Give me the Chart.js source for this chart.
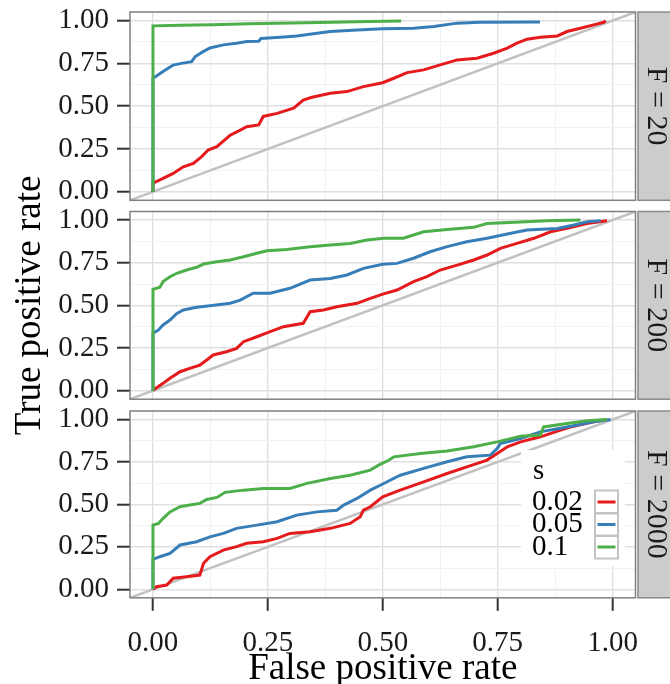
<!DOCTYPE html>
<html>
<head>
<meta charset="utf-8">
<script src="https://cdn.jsdelivr.net/npm/chart.js@4.4.0/dist/chart.umd.min.js"></script>
<style>
  html, body { margin: 0; padding: 0; background: #fff; }
  #wrap { position: relative; width: 670px; height: 684px; overflow: hidden; }
  #wrap canvas { position: absolute; left: 0; top: 0; }
</style>
</head>
<body>
<div id="wrap">
  <canvas id="p0" width="670" height="684"></canvas>
  <canvas id="p1" width="670" height="684"></canvas>
  <canvas id="p2" width="670" height="684"></canvas>
</div>
<script>
// axis ticks
const tickValues = [0, 0.25, 0.5, 0.75, 1];
const tickLabels = ['0.00', '0.25', '0.50', '0.75', '1.00'];
const minorValues = [0.125, 0.375, 0.625, 0.875];
const facetLabels = ['F = 20', 'F = 200', 'F = 2000'];
const sLabels = ['0.02', '0.05', '0.1'];
const sColors = ['#E41A1C', '#377EB8', '#4DAF4A'];

// ROC curves, [false positive rate, true positive rate]
const f20_s002 = [[0,0],[0,0.05],[0.022,0.078],[0.044,0.107],[0.066,0.146],[0.088,0.166],[0.106,0.205],[0.12,0.244],[0.139,0.263],[0.16,0.312],[0.168,0.33],[0.19,0.36],[0.204,0.38],[0.23,0.39],[0.24,0.44],[0.27,0.458],[0.306,0.488],[0.327,0.536],[0.346,0.552],[0.386,0.575],[0.422,0.585],[0.458,0.614],[0.5,0.637],[0.524,0.663],[0.553,0.696],[0.589,0.712],[0.625,0.741],[0.662,0.77],[0.705,0.78],[0.741,0.809],[0.771,0.839],[0.792,0.868],[0.814,0.891],[0.843,0.903],[0.88,0.91],[0.901,0.936],[0.93,0.955],[0.959,0.975],[0.981,0.99],[0.985,1.0]];
const f20_s005 = [[0,0],[0,0.663],[0.01,0.68],[0.026,0.71],[0.044,0.74],[0.062,0.75],[0.084,0.76],[0.092,0.79],[0.11,0.82],[0.124,0.84],[0.153,0.858],[0.182,0.868],[0.204,0.877],[0.23,0.879],[0.235,0.895],[0.277,0.903],[0.313,0.91],[0.357,0.926],[0.386,0.936],[0.444,0.945],[0.5,0.952],[0.567,0.955],[0.611,0.965],[0.662,0.985],[0.712,0.99],[0.842,0.992]];
const f20_s01 = [[0,0],[0,0.969],[0.06,0.972],[0.13,0.976],[0.21,0.982],[0.3,0.986],[0.39,0.99],[0.47,0.995],[0.54,0.998]];

const f200_s002 = [[0,0],[0.004,0.01],[0.022,0.043],[0.037,0.073],[0.059,0.111],[0.08,0.131],[0.102,0.15],[0.117,0.18],[0.131,0.209],[0.16,0.228],[0.182,0.248],[0.197,0.287],[0.226,0.316],[0.255,0.346],[0.284,0.375],[0.327,0.395],[0.342,0.463],[0.371,0.473],[0.4,0.492],[0.444,0.512],[0.473,0.541],[0.5,0.566],[0.531,0.59],[0.567,0.639],[0.596,0.668],[0.625,0.707],[0.662,0.736],[0.698,0.766],[0.727,0.795],[0.756,0.834],[0.792,0.863],[0.829,0.893],[0.865,0.931],[0.901,0.951],[0.945,0.98],[0.988,0.996]];
const f200_s005 = [[0,0],[0,0.336],[0.012,0.356],[0.022,0.385],[0.037,0.414],[0.052,0.453],[0.066,0.473],[0.095,0.489],[0.124,0.498],[0.168,0.512],[0.19,0.531],[0.218,0.571],[0.255,0.571],[0.298,0.6],[0.342,0.648],[0.386,0.658],[0.422,0.678],[0.458,0.717],[0.5,0.741],[0.531,0.746],[0.567,0.776],[0.603,0.814],[0.64,0.844],[0.683,0.873],[0.727,0.893],[0.771,0.918],[0.814,0.941],[0.88,0.951],[0.916,0.971],[0.945,0.99],[0.974,0.996]];
const f200_s01 = [[0,0],[0,0.594],[0.015,0.606],[0.022,0.639],[0.037,0.668],[0.052,0.688],[0.073,0.707],[0.095,0.723],[0.11,0.742],[0.139,0.756],[0.168,0.766],[0.197,0.785],[0.226,0.805],[0.248,0.82],[0.291,0.828],[0.342,0.844],[0.386,0.854],[0.429,0.863],[0.466,0.883],[0.502,0.893],[0.545,0.893],[0.567,0.912],[0.589,0.931],[0.64,0.945],[0.698,0.957],[0.727,0.98],[0.8,0.988],[0.858,0.996],[0.93,1.0]];

const f2000_s002 = [[0,0],[0.008,0.015],[0.03,0.025],[0.044,0.065],[0.073,0.074],[0.102,0.084],[0.11,0.153],[0.124,0.192],[0.153,0.231],[0.182,0.251],[0.204,0.271],[0.24,0.28],[0.27,0.3],[0.298,0.329],[0.342,0.339],[0.386,0.359],[0.429,0.388],[0.451,0.427],[0.458,0.466],[0.473,0.486],[0.5,0.545],[0.538,0.584],[0.589,0.633],[0.64,0.682],[0.683,0.721],[0.727,0.761],[0.749,0.8],[0.771,0.839],[0.8,0.868],[0.843,0.898],[0.887,0.937],[0.908,0.956],[0.959,0.986],[0.988,1.0]];
const f2000_s005 = [[0,0],[0,0.176],[0.015,0.192],[0.037,0.212],[0.059,0.261],[0.095,0.28],[0.124,0.309],[0.153,0.329],[0.182,0.359],[0.226,0.378],[0.27,0.398],[0.313,0.437],[0.357,0.456],[0.4,0.466],[0.415,0.496],[0.444,0.535],[0.473,0.584],[0.5,0.62],[0.538,0.672],[0.589,0.712],[0.64,0.751],[0.683,0.78],[0.734,0.79],[0.749,0.829],[0.756,0.859],[0.8,0.888],[0.843,0.927],[0.901,0.956],[0.959,0.986],[0.996,1.0]];
const f2000_s01 = [[0,0],[0,0.378],[0.012,0.388],[0.022,0.418],[0.037,0.456],[0.059,0.486],[0.08,0.496],[0.102,0.506],[0.117,0.529],[0.139,0.541],[0.157,0.571],[0.197,0.584],[0.24,0.594],[0.298,0.594],[0.335,0.624],[0.386,0.653],[0.429,0.672],[0.473,0.702],[0.491,0.731],[0.513,0.76],[0.524,0.78],[0.582,0.8],[0.64,0.815],[0.698,0.839],[0.749,0.868],[0.8,0.902],[0.843,0.908],[0.85,0.956],[0.901,0.976],[0.945,0.992],[0.988,1.0]];

const curves = [
  [f20_s002, f20_s005, f20_s01],
  [f200_s002, f200_s005, f200_s01],
  [f2000_s002, f2000_s005, f2000_s01]
];
const diagonal = [[-0.05, -0.05], [1.05, 1.05]];

// layout of the three panels on the shared 670x684 canvas
const W = 670, H = 684;
const panelTop = [12, 211.5, 411];
const panelBottom = [200.3, 399.2, 597.8];
const axisWidth = 130;
const panelRight = 635.5;
const titleDrop = 7; // x title sits a little lower than Chart.js puts it
const SERIF = '"Liberation Serif", "Times New Roman", serif';

const gridValues = tickValues.concat(minorValues).sort((a, b) => a - b);
const isMajor = v => tickValues.some(t => Math.abs(t - v) < 1e-6);
const labelOf = v => {
  const k = tickValues.findIndex(t => Math.abs(t - v) < 1e-6);
  return k < 0 ? '' : tickLabels[k];
};
const toXY = pts => pts.map(p => ({x: p[0], y: p[1]}));

function drawLegend(chart) {
  const ctx = chart.ctx;
  ctx.fillStyle = '#ffffff';
  ctx.fillRect(521, 450, 104, 116);
  ctx.fillStyle = '#000';
  ctx.font = '29px ' + SERIF;
  ctx.textAlign = 'left';
  ctx.textBaseline = 'middle';
  ctx.fillText('s', 533, 471);
  sLabels.forEach((lab, k) => {
    const cy = 502 + k * 22.5;
    ctx.fillStyle = '#000';
    ctx.fillText(lab, 532, cy);
    ctx.strokeStyle = '#c4c4c4';
    ctx.lineWidth = 2;
    ctx.strokeRect(595, cy - 11.5, 23, 23);
    ctx.strokeStyle = sColors[k];
    ctx.lineWidth = 3;
    ctx.beginPath();
    ctx.moveTo(597.5, cy);
    ctx.lineTo(615.5, cy);
    ctx.stroke();
  });
}

function panelDecor(i) {
  return {
    id: 'decor' + i,
    afterDatasetsDraw(chart) {
      const ctx = chart.ctx, a = chart.chartArea;
      ctx.save();
      if (i === 2) drawLegend(chart);
      // panel border
      ctx.strokeStyle = '#808080';
      ctx.lineWidth = 1.5;
      ctx.strokeRect(a.left, a.top, a.right - a.left, a.bottom - a.top);
      // facet strip
      const sx = a.right + 2.5;
      ctx.fillStyle = '#cccccc';
      ctx.fillRect(sx, a.top, W - sx + 3, a.bottom - a.top);
      ctx.strokeStyle = '#8a8a8a';
      ctx.strokeRect(sx, a.top, W - sx + 3, a.bottom - a.top);
      ctx.translate(656, (a.top + a.bottom) / 2);
      ctx.rotate(Math.PI / 2);
      ctx.fillStyle = '#1a1a1a';
      ctx.font = '30px ' + SERIF;
      ctx.textAlign = 'center';
      ctx.textBaseline = 'middle';
      ctx.fillText(facetLabels[i], 0, 0);
      ctx.restore();
    }
  };
}

function makePanel(i) {
  const last = i === 2;
  const xAxisH = last ? H - panelBottom[i] + titleDrop : 0;
  const padBottom = last ? -titleDrop : H - panelBottom[i];
  const datasets = [{
    data: toXY(diagonal),
    borderColor: '#c2c2c2',
    borderWidth: 2.5,
    order: 4
  }];
  curves[i].forEach((pts, k) => {
    datasets.push({
      label: sLabels[k],
      data: toXY(pts),
      borderColor: sColors[k],
      borderWidth: 3,
      order: 3 - k
    });
  });

  return new Chart(document.getElementById('p' + i), {
    type: 'line',
    data: {datasets: datasets},
    options: {
      responsive: false,
      animation: false,
      layout: {padding: {left: 0, right: W - panelRight, top: panelTop[i], bottom: padBottom}},
      elements: {point: {radius: 0}, line: {tension: 0, fill: false}},
      plugins: {legend: {display: false}, tooltip: {enabled: false}},
      scales: {
        x: {
          type: 'linear',
          min: -0.05,
          max: 1.05,
          afterBuildTicks: s => { s.ticks = gridValues.map(v => ({value: v})); },
          afterFit: s => { s.height = xAxisH; s.paddingLeft = 0; s.paddingRight = 0; },
          border: {display: false},
          grid: {
            color: ctx => isMajor(ctx.tick.value) ? '#e0e0e0' : '#f2f2f2',
            lineWidth: ctx => isMajor(ctx.tick.value) ? 1.4 : 1,
            drawTicks: last,
            tickLength: 13,
            tickWidth: 2,
            tickColor: ctx => isMajor(ctx.tick.value) ? '#333' : 'rgba(0,0,0,0)'
          },
          ticks: {
            display: last,
            autoSkip: false,
            maxRotation: 0,
            padding: 15,
            color: '#1a1a1a',
            font: {family: SERIF, size: 29},
            callback: v => labelOf(v)
          },
          title: {
            display: last,
            text: 'False positive rate',
            color: '#000',
            font: {family: SERIF, size: 37},
            padding: {top: 0, bottom: 0}
          }
        },
        y: {
          min: -0.05,
          max: 1.05,
          afterBuildTicks: s => { s.ticks = gridValues.map(v => ({value: v})); },
          afterFit: s => { s.width = axisWidth; s.paddingTop = 0; s.paddingBottom = 0; },
          border: {display: false},
          grid: {
            color: ctx => isMajor(ctx.tick.value) ? '#e0e0e0' : '#f2f2f2',
            lineWidth: ctx => isMajor(ctx.tick.value) ? 1.4 : 1,
            tickLength: 13,
            tickWidth: 2,
            tickColor: ctx => isMajor(ctx.tick.value) ? '#333' : 'rgba(0,0,0,0)'
          },
          ticks: {
            autoSkip: false,
            padding: 8,
            color: '#1a1a1a',
            font: {family: SERIF, size: 29},
            callback: v => labelOf(v)
          },
          title: {
            display: i === 1,
            text: 'True positive rate',
            color: '#000',
            font: {family: SERIF, size: 37},
            padding: {top: 8, bottom: 0}
          }
        }
      }
    },
    plugins: [panelDecor(i)]
  });
}

[0, 1, 2].forEach(makePanel);
</script>
</body>
</html>
